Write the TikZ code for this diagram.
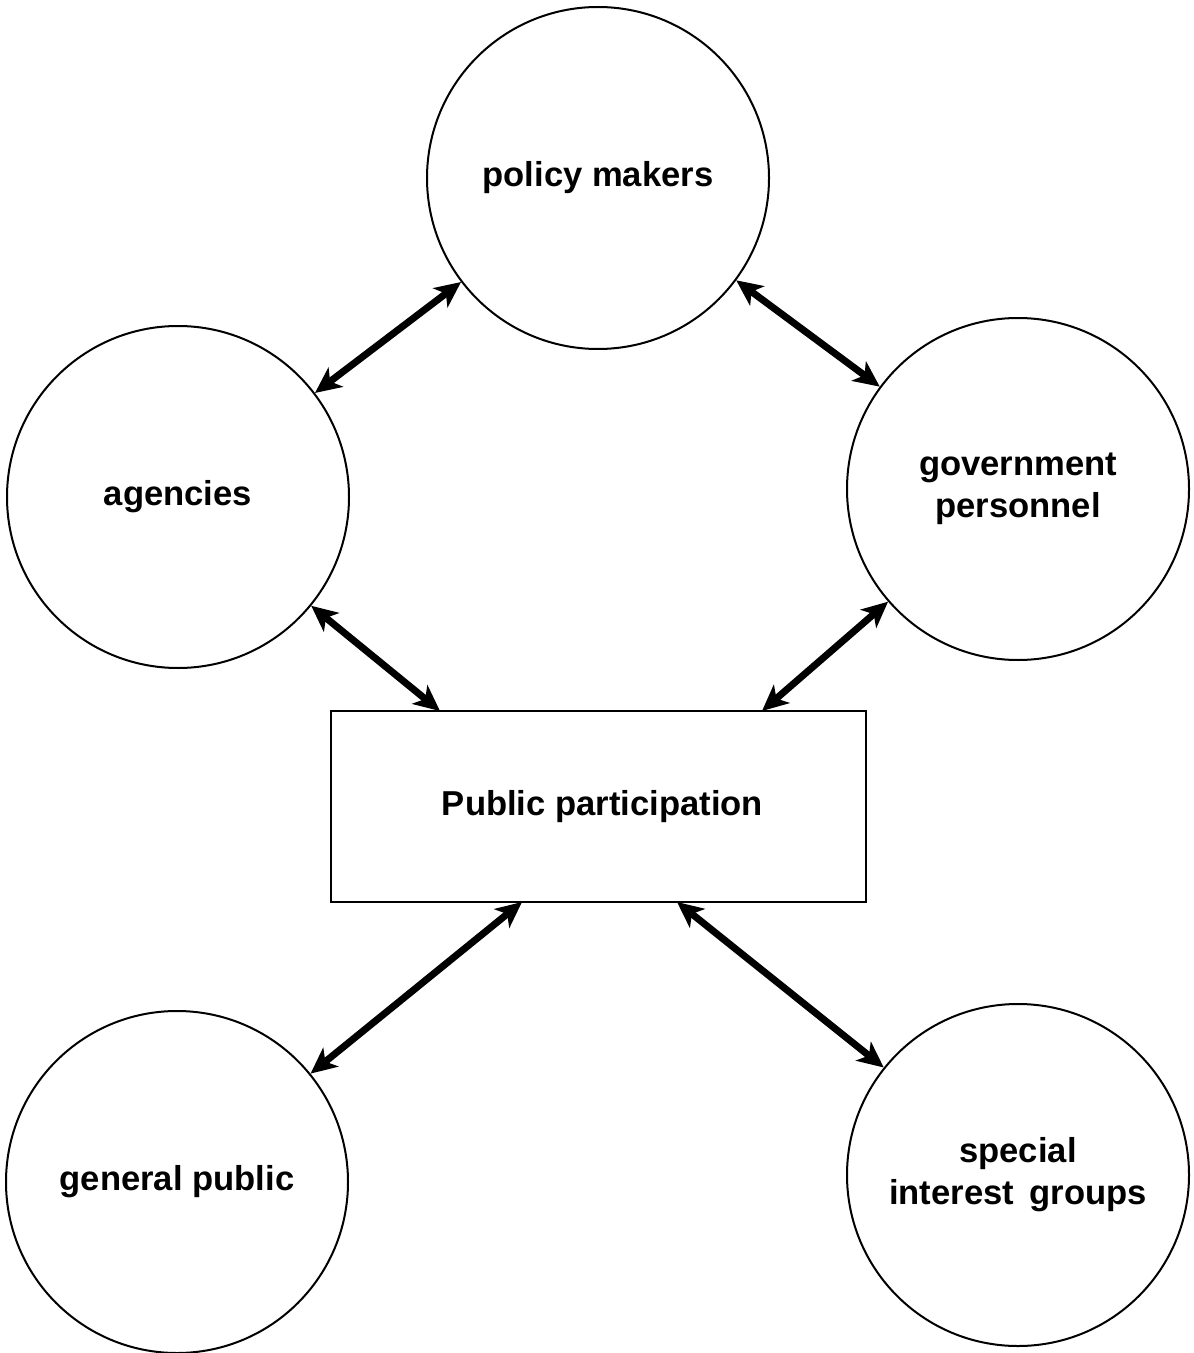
\documentclass[tikz,border=0pt]{standalone}
\usepackage{fontspec}
\setmainfont{Liberation Sans}
\usetikzlibrary{arrows.meta}
\begin{document}
\begin{tikzpicture}[x=0.5pt,y=-0.5pt,
  lbl/.style={font=\bfseries\fontsize{17.3}{21}\selectfont, align=center},
  actor/.style={circle, draw, line width=1pt, minimum size=171pt, inner sep=0pt, lbl},
  hub/.style={rectangle, draw, line width=1pt, minimum width=267.5pt, minimum height=95.5pt, inner sep=0pt, lbl},
  tip/.style={Stealth[length=13pt,width=12pt,inset=3.5pt]},
  link/.style={line width=3.5pt, {Stealth[length=13pt,width=12pt,inset=3.5pt]}-{Stealth[length=13pt,width=12pt,inset=3.5pt]}}
]
\useasboundingbox (0,0) rectangle (1193,1353);

\node[actor] (pm)  at (598,178)  {policy makers};
\node[actor] (ag)  at (178,497)  {agencies};
\node[actor] (gov) at (1018,489) {government\\personnel};
\node[actor] (gp)  at (177,1182) {general public};
\node[actor] (sig) at (1018,1175) {special\\interest\hspace{0.45em}groups};

\node[hub] (pp) at (598.5,806.5) {\hspace*{4pt}Public participation};

% attachment points along the box edges
\coordinate (ppa) at (440,711);
\coordinate (ppg) at (762,711);
\coordinate (ppp) at (522,902);
\coordinate (pps) at (677,902);

\draw[link] (ag) -- (pm);
\draw[link] (pm) -- (gov);
\draw[link] (ag) -- (ppa);
\draw[link] (gov) -- (ppg);
\draw[link] (ppp) -- (gp);
\draw[link] (pps) -- (sig);
\end{tikzpicture}
\end{document}
